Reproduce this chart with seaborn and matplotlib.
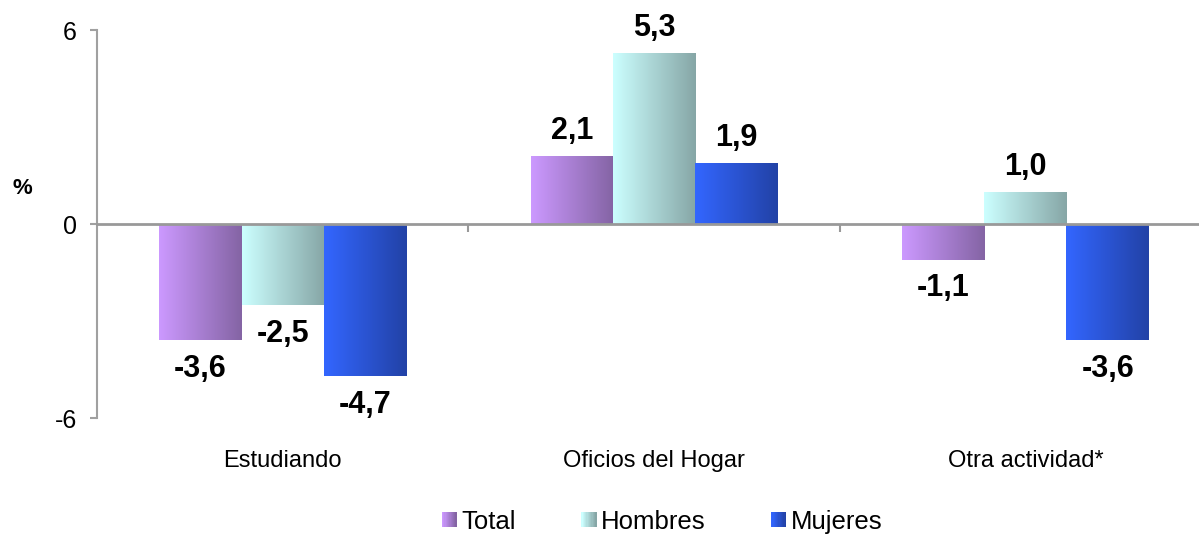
import numpy as np
import pandas as pd
import matplotlib
matplotlib.use("Agg")
import matplotlib.pyplot as plt
import seaborn as sns
from matplotlib.colors import LinearSegmentedColormap
from matplotlib.patches import Rectangle
from matplotlib.legend_handler import HandlerBase

categories = ["Estudiando", "Oficios del Hogar", "Otra actividad*"]
series = ["Total", "Hombres", "Mujeres"]
total = [-3.6, 2.1, -1.1]
hombres = [-2.5, 5.3, 1.0]
mujeres = [-4.7, 1.9, -3.6]
yticks = [-6, 0, 6]

grad = {
    "Total": ("#CC99FF", "#8464A4"),
    "Hombres": ("#CCFFFF", "#86A6A6"),
    "Mujeres": ("#3366FF", "#2242A6"),
}

sns.set_theme(style="white")
plt.rcParams["font.family"] = ["Liberation Sans", "DejaVu Sans"]
plt.rcParams["text.color"] = "black"
plt.rcParams["xtick.color"] = "black"
plt.rcParams["ytick.color"] = "black"
plt.rcParams["axes.labelcolor"] = "black"

df = pd.DataFrame({
    "cat": categories * 3,
    "serie": [s for s in series for _ in categories],
    "val": total + hombres + mujeres,
})

fig = plt.figure(figsize=(11.99, 5.36), dpi=100)
ax = fig.add_axes([97 / 1199, 118 / 536, 1114 / 1199, 388 / 536])

mid = {k: v[0] for k, v in grad.items()}
sns.barplot(data=df, x="cat", y="val", hue="serie", order=categories,
            hue_order=series, palette=mid, width=0.665, ax=ax,
            legend=False, linewidth=0, saturation=1)

ax.set_ylim(-6, 6)
ax.set_xlim(-0.5, 2.5)

# gradient fills
for serie, cont in zip(series, ax.containers):
    cmap = LinearSegmentedColormap.from_list(serie, list(grad[serie]))
    g = np.linspace(0, 1, 256).reshape(1, -1)
    for bar in cont:
        x0, y0 = bar.get_x(), bar.get_y()
        w, h = bar.get_width(), bar.get_height()
        ylo, yhi = min(y0, y0 + h), max(y0, y0 + h)
        im = ax.imshow(g, cmap=cmap, aspect="auto",
                       extent=[x0, x0 + w, ylo, yhi], zorder=bar.get_zorder() + 0.1)
        im.set_clip_path(bar)
        bar.set_facecolor("none")
        val = y0 + h
        txt = f"{val:.1f}".replace(".", ",")
        if val >= 0:
            ax.annotate(txt, (x0 + w / 2, val), xytext=(0, 12), textcoords="offset points",
                        ha="center", va="baseline", fontsize=22, fontweight="bold",
                        color="black")
        else:
            ax.annotate(txt, (x0 + w / 2, val), xytext=(0, -10), textcoords="offset points",
                        ha="center", va="top", fontsize=22, fontweight="bold",
                        color="black")
ax.set_xlim(-0.5, 2.5)
ax.set_ylim(-6, 6)

# spines
for s in ["top", "right"]:
    ax.spines[s].set_visible(False)
ax.spines["left"].set_color("#A0A0A0")
ax.spines["left"].set_linewidth(1.5)
ax.spines["bottom"].set_position(("data", 0))
ax.spines["bottom"].set_color("#999999")
ax.spines["bottom"].set_linewidth(2)
ax.spines["bottom"].set_zorder(5)

ax.set_yticks(yticks)
ax.set_yticklabels([str(v) for v in yticks], fontsize=18)
ax.tick_params(axis="y", left=True, length=5, width=1.5, color="#A0A0A0", pad=9.5,
               labelcolor="black")

ax.set_xticks([0.5, 1.5], minor=True)
ax.set_xticks(range(len(categories)))
ax.set_xticklabels([])
ax.tick_params(axis="x", which="major", length=0)
ax.tick_params(axis="x", which="minor", bottom=True, length=6, width=1.5,
               color="#999999", direction="out")
ax.set_xlabel("")
ax.set_ylabel("")

sec = ax.secondary_xaxis("bottom")
sec.set_xticks(range(len(categories)))
sec.set_xticklabels(categories, fontsize=17)
sec.tick_params(length=0, pad=23, labelcolor="black")
sec.spines["bottom"].set_visible(False)

fig.text(22 / 1199, 1 - 188 / 536, "%", fontsize=16, fontweight="bold",
         ha="center", va="center", color="black")


class GradHandler(HandlerBase):
    def __init__(self, c0, c1):
        super().__init__()
        self.c0, self.c1 = c0, c1

    def create_artists(self, legend, orig_handle, xdescent, ydescent, width, height,
                       fontsize, trans):
        cmap = LinearSegmentedColormap.from_list("h", [self.c0, self.c1])
        n = 12
        side = min(width, height * 1.0)
        x0 = -xdescent + (width - side) / 2
        y0 = -ydescent + (height - side) / 2
        arts = []
        for i in range(n):
            r = Rectangle((x0 + side * i / n, y0), side / n + 0.2, side,
                          facecolor=cmap(i / (n - 1)), edgecolor="none", transform=trans)
            arts.append(r)
        return arts


handles = [Rectangle((0, 0), 1, 1) for _ in series]
hmap = {h: GradHandler(*grad[s]) for h, s in zip(handles, series)}
leg = fig.legend(handles, series, loc="center", bbox_to_anchor=(662 / 1199, 1 - 522 / 536),
                 ncol=3, frameon=False, fontsize=18.5, handler_map=hmap,
                 handlelength=0.58, handleheight=0.58, handletextpad=0.18, columnspacing=2.55)
for t in leg.get_texts():
    t.set_color("black")

fig.savefig("out.png", dpi=100)
